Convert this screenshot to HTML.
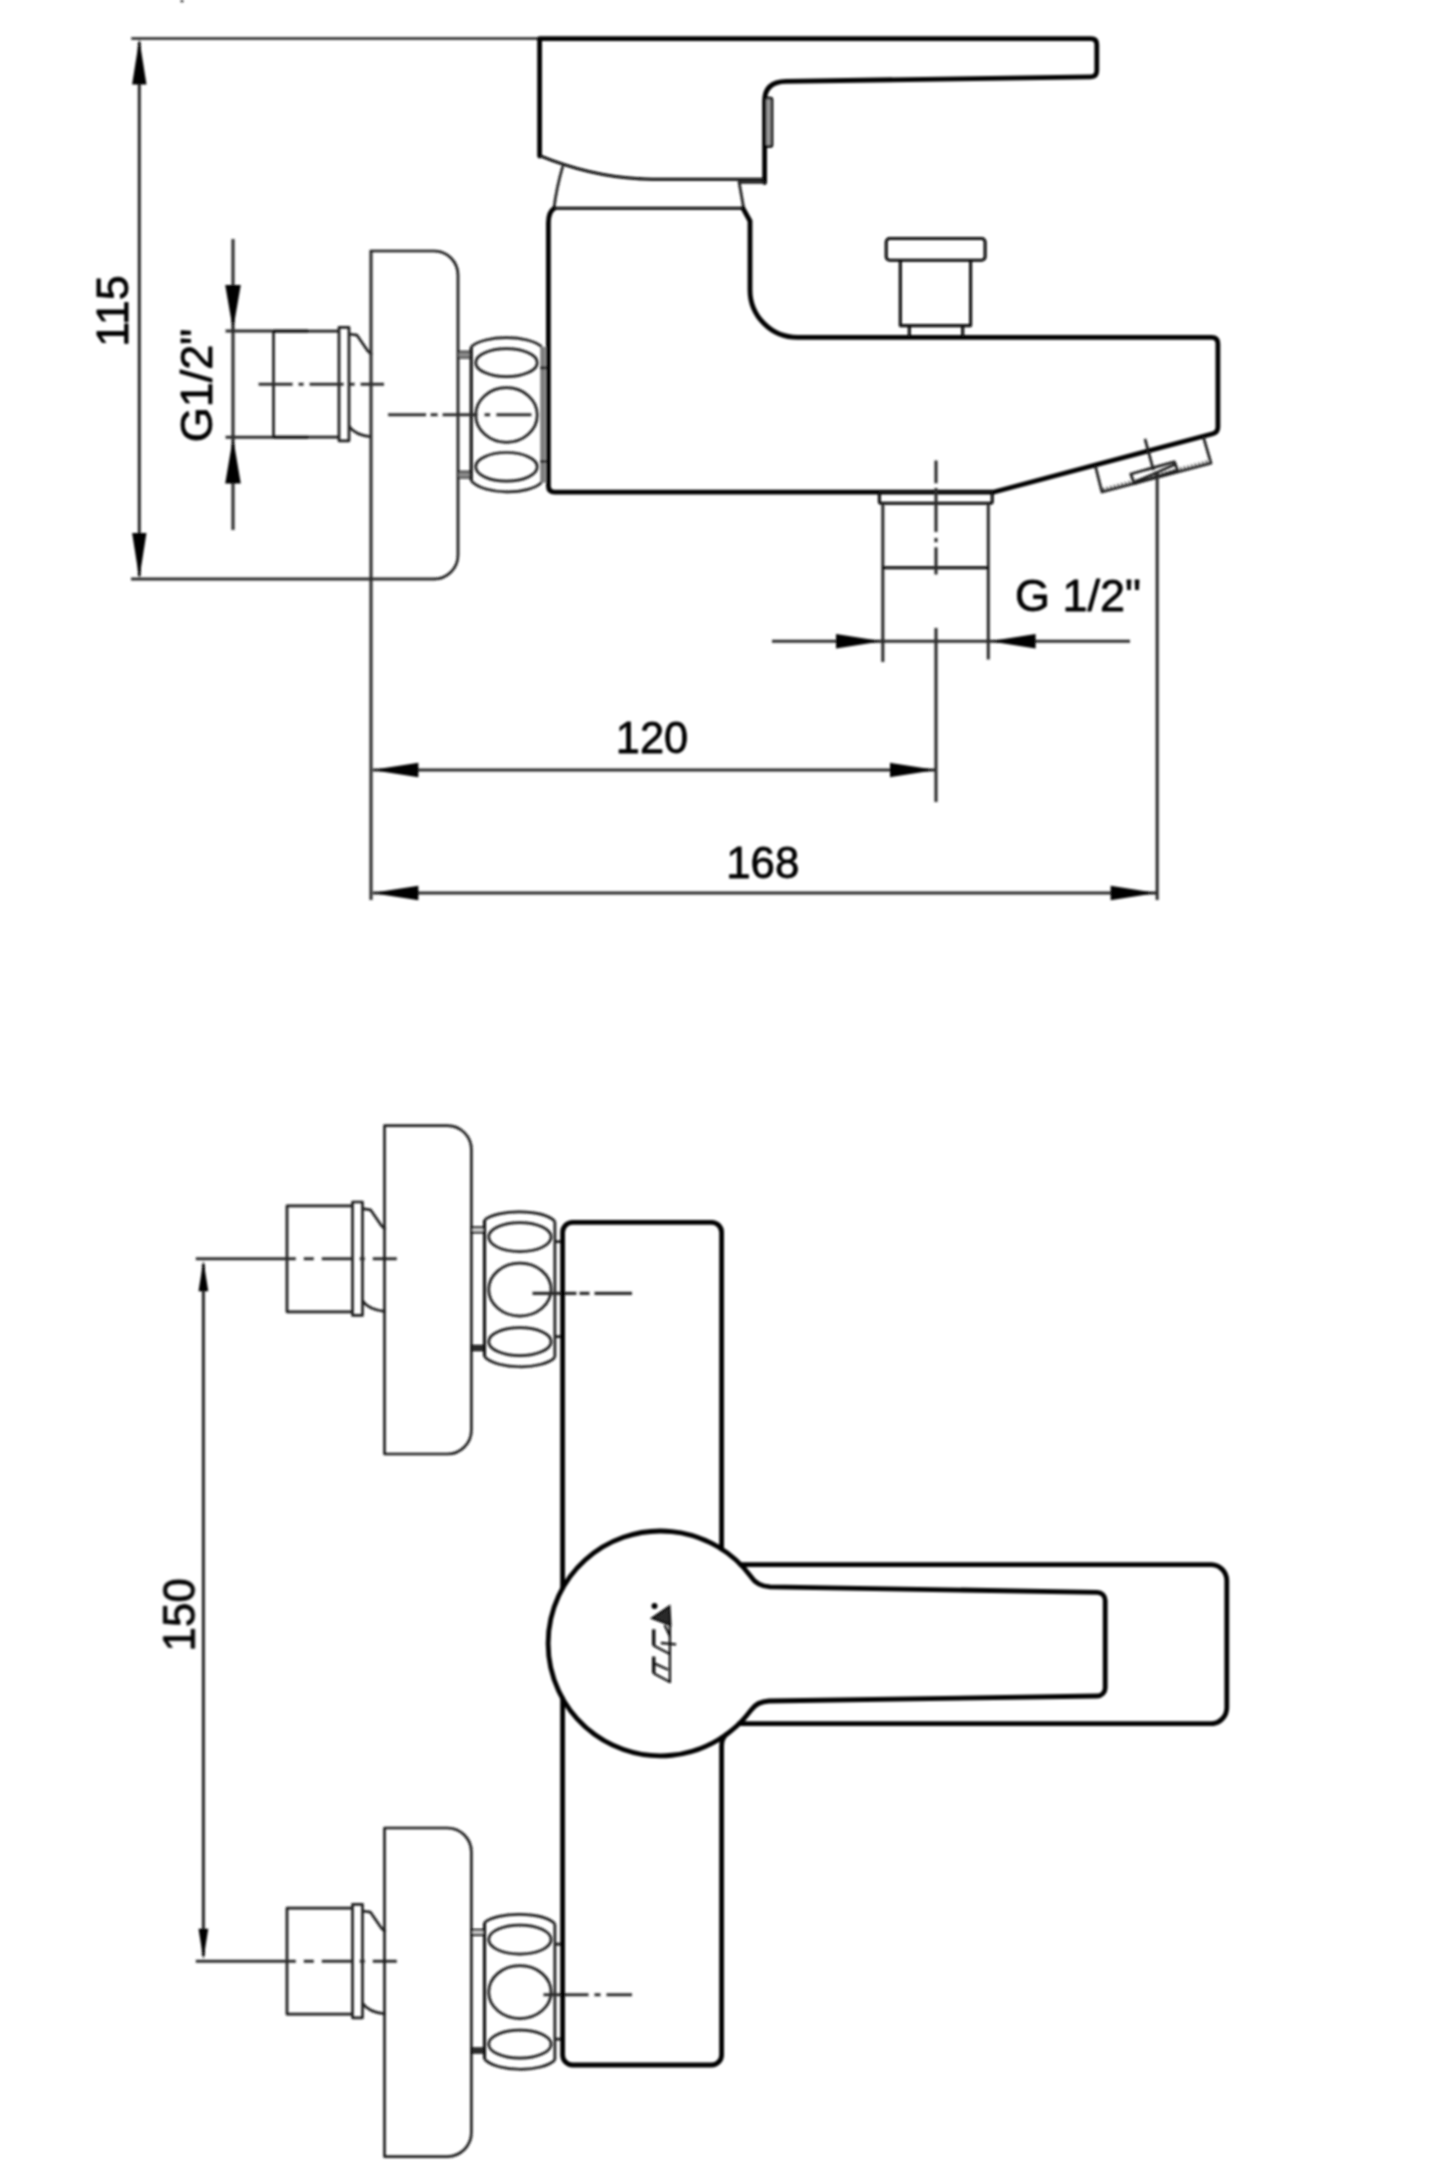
<!DOCTYPE html>
<html lang="en">
<head>
<meta charset="utf-8">
<title>Bath mixer technical drawing</title>
<style>
  html, body { margin: 0; padding: 0; background: #ffffff; }
  body { width: 1440px; height: 2160px; overflow: hidden; font-family: "Liberation Sans", sans-serif; }
  svg { display: block; }
  .k { fill: none; stroke: #000; stroke-width: 4.8; stroke-linejoin: round; stroke-linecap: round; }
  .n { fill: none; stroke: #1c1c1c; stroke-width: 2.7; stroke-linejoin: round; stroke-linecap: butt; }
  .d { fill: none; stroke: #2c2c2c; stroke-width: 3.1; stroke-linecap: butt; }
  .m { fill: none; stroke: #080808; stroke-width: 3.1; stroke-linejoin: round; }
  .a { fill: #000; stroke: none; }
  .t { font-family: "Liberation Sans", sans-serif; font-size: 45px; fill: #000; stroke: #000; stroke-width: 0.8; stroke-linejoin: round; }
</style>
</head>
<body>
<svg width="1440" height="2160" viewBox="0 0 1440 2160">
<defs>
  <filter id="soft" x="0" y="0" width="1440" height="2160" filterUnits="userSpaceOnUse"><feGaussianBlur stdDeviation="1"/></filter>
  <!-- union nut: origin = (wall plate right edge, nut centre) -->
  <g id="nut">
    <rect x="0" y="-63.3" width="12.6" height="6.3" fill="#8a8a8a" stroke="#111" stroke-width="1.6"/>
    <rect x="0" y="56.7" width="12.6" height="6.3" fill="#8a8a8a" stroke="#111" stroke-width="1.6"/>
    <line x1="84.9" y1="-68" x2="84.9" y2="68" stroke="#7d7d7d" stroke-width="5.4"/>
    <path class="n" d="M82.2,-47 h5.4 M82.2,46.7 h5.4"/>
    <path class="m" d="M13.2,-68 V66"/>
    <path class="n" d="M13.2,-68 C26,-80.2 71,-80.2 83.6,-68"/>
    <path class="n" d="M13.2,66 C26,80.4 71,80.4 83.6,67.6"/>
    <ellipse class="n" cx="48.5" cy="-52.1" rx="30.8" ry="14"/>
    <ellipse class="n" cx="48.5" cy="0.2" rx="30.8" ry="27.3"/>
    <ellipse class="n" cx="48.5" cy="52" rx="30.8" ry="14.3"/>
  </g>
  <!-- union nut as seen from above -->
  <g id="nut2">
    <rect x="0" y="-62" width="13" height="4.8" fill="#e8e8e8" stroke="#111" stroke-width="2.3"/>
    <rect x="0" y="56.2" width="13" height="4.6" fill="#333" stroke="#111" stroke-width="1.8"/>
    <path class="m" d="M13.1,-69.5 V67.2"/>
    <path class="n" d="M83.5,-68.2 V68 M83.5,-47.8 h6 M83.5,47.2 h6"/>
    <path class="n" d="M13.1,-69.5 C26,-80.5 71,-80.5 83.5,-68.2"/>
    <path class="n" d="M13.1,67.2 C26,80.5 71,80.5 83.5,68"/>
    <ellipse class="n" cx="48.5" cy="-52.4" rx="31.2" ry="14.5"/>
    <ellipse class="n" cx="48.5" cy="0.1" rx="31.2" ry="26.5"/>
    <ellipse class="n" cx="48.5" cy="52.2" rx="31.2" ry="14"/>
  </g>
  <!-- wall connection stub: origin = (wall plate left edge, stub centre) -->
  <g id="stub">
    <path class="n" d="M-31.5,-53 H-97.5 V53 H-31.5"/>
    <rect class="n" x="-32" y="-56.8" width="10" height="113.4"/>
    <path class="n" d="M-22,-50.2 L-14,-49 L-3,-33 L1,-29.5"/>
    <path class="n" d="M-22,42 Q-16,51 1,52.8"/>
  </g>
</defs>

<!-- ================= SIDE VIEW ================= -->
<g id="side-view" filter="url(#soft)">
  <!-- dimension 115 -->
  <path class="n" d="M131.3,38.5 H541" stroke-width="3.3"/>
  <path class="d" d="M131,579 H435"/>
  <path class="d" d="M139.3,42 V576"/>
  <path class="a" d="M139.3,39 l-7.2,45.5 h14.4 z"/>
  <path class="a" d="M139.3,578.6 l-7.2,-45.5 h14.4 z"/>
  <path class="n" d="M182,0 V2.2" stroke-width="3"/>
  <text class="t" text-anchor="middle" transform="translate(128,311) rotate(-90)">115</text>

  <!-- dimension G1/2" vertical -->
  <path class="d" d="M233,239 V530"/>
  <path class="a" d="M233,330 l-7.8,-45 h15.6 z"/>
  <path class="a" d="M233,437.6 l-7.8,46 h15.6 z"/>
  <path class="d" d="M225.6,331 H273 M225.6,437.2 H273"/>
  <text class="t" text-anchor="middle" transform="translate(212,385.5) rotate(-90)">G1/2"</text>

  <!-- wall stub -->
  <use href="#stub" x="371" y="384.2"/>
  <path class="m" d="M273.5,331 H308 M273.5,437.2 H308"/>
  <path class="d" d="M258.6,384.2 H384" stroke-dasharray="34 6 5 6"/>

  <!-- wall plate -->
  <path class="d" d="M371,900 V250" stroke="#4c4c4c" stroke-width="4"/>
  <path class="n" d="M370,251 H434 A24,24 0 0 1 458,275 V555 A24,24 0 0 1 434,579"/>

  <!-- nut -->
  <use href="#nut" x="458" y="414.8"/>
  <path class="d" d="M388.1,414.8 H531.5" stroke-dasharray="38 4.5 7 5 35 7 5.5 6.3 35"/>

  <!-- lever handle -->
  <path class="k" d="M539.6,156 V38.6 H1090.8 Q1096.8,38.6 1096.8,44.6 V70.8 Q1096.8,76.7 1090.8,76.9 L786,81.3 Q764.6,81.7 764.6,101 V182.6"/>
  <path class="m" d="M539.6,155.6 C576,170.5 612,178.8 652,179.2 H764.6"/>
  <rect x="765" y="98" width="7" height="48.4" rx="1.5" fill="#9a9a9a" stroke="#000" stroke-width="2.6"/>
  <path class="n" d="M765,182.4 H739"/>
  <path class="n" d="M562.8,166 Q556.5,188 554,207.8 M738.9,181 L743.6,207.8"/>

  <!-- body -->
  <path class="k" d="M743,208.4 L750,221 V290 A47.5,47.5 0 0 0 797.5,337.4 H1211.5 Q1217.9,337.4 1217.9,343.8 V427 Q1217.9,432.4 1212.8,433.8 L993,492.2 H554.8 Q548.4,492.2 548.4,485.7 V223 Q548.4,212 554,208.4"/>
  <path class="m" d="M554,208.3 H743"/>

  <!-- diverter knob -->
  <rect class="m" x="886.2" y="238.5" width="98.9" height="21.7" rx="3.5"/>
  <path class="m" d="M900.3,260.2 V325.6 H970.6 V260.2"/>
  <path class="m" d="M909.3,325.6 V337 M962.7,325.6 V337"/>

  <!-- bottom outlet -->
  <rect class="m" x="879.4" y="492" width="112.8" height="11.3" rx="1.5"/>
  <path class="d" d="M882.8,503.4 V662 M988.3,503.4 V659.6"/>
  <path class="m" d="M882.8,567.8 H988.3"/>
  <path class="d" d="M936,460.6 V574.5" stroke-dasharray="22.7 4.7 44 6 4.2 5 28"/>
  <path class="d" d="M936,628 V802"/>

  <!-- aerator -->
  <path class="n" d="M1095.4,466 L1101.9,492 L1211,463.2 L1203.3,436.7"/>
  <path d="M1103,489.6 L1210.4,461.2" stroke="#3a3a3a" stroke-width="3.6" stroke-dasharray="1.5 2.3" fill="none"/>
  <path class="n" d="M1130.8,474 L1174.4,461.8 L1177.6,470.4 L1134.2,483.6 Z"/>
  <path class="n" d="M1134.2,482.4 L1176,464"/>
  <path class="n" d="M1145,438.8 L1153.4,470"/>
  <path class="d" d="M1157.2,471 V900"/>

  <!-- G 1/2" horizontal -->
  <path class="d" d="M772,641.2 H1130"/>
  <path class="a" d="M882,641.2 l-46,-7.2 v14.4 z"/>
  <path class="a" d="M989.6,641.2 l46,-7.2 v14.4 z"/>
  <text class="t" x="1015" y="611">G 1/2"</text>

  <!-- 120 -->
  <path class="d" d="M373,770 H935"/>
  <path class="a" d="M372.4,770 l46,-7.2 v14.4 z"/>
  <path class="a" d="M936,770 l-46,-7.2 v14.4 z"/>
  <text class="t" x="652" y="753.2" text-anchor="middle" textLength="72.4" lengthAdjust="spacingAndGlyphs">120</text>

  <!-- 168 -->
  <path class="d" d="M373,893 H1156"/>
  <path class="a" d="M372.4,893 l46,-7.2 v14.4 z"/>
  <path class="a" d="M1156.6,893 l-46,-7.2 v14.4 z"/>
  <text class="t" x="762.8" y="877.5" text-anchor="middle" textLength="73.2" lengthAdjust="spacingAndGlyphs">168</text>
</g>

<!-- ================= TOP VIEW ================= -->
<g id="top-view" filter="url(#soft)">
  <!-- upper connection -->
  <use href="#stub" x="384.5" y="1258.8"/>
  <path class="d" d="M195.8,1258.8 H397" stroke="#181818" stroke-width="2.8" stroke-dasharray="100 8 10 8 30 8 5 8 24"/>
  <path class="n" d="M384.5,1125.6 H447.4 A24,24 0 0 1 471.4,1149.6 V1430 A24,24 0 0 1 447.4,1454 H384.5 Z"/>
  <use href="#nut2" x="471.4" y="1289.5"/>
  <path class="d" d="M532.5,1293.4 H632" stroke="#181818" stroke-width="2.8" stroke-dasharray="44 3 10 5 38"/>

  <!-- lower connection -->
  <use href="#stub" x="384.5" y="1961.2"/>
  <path class="d" d="M195.8,1961.2 H397" stroke="#181818" stroke-width="2.8" stroke-dasharray="100 8 10 8 30 8 5 8 24"/>
  <path class="n" d="M384.5,1828 H447.4 A24,24 0 0 1 471.4,1852 V2132.6 A24,24 0 0 1 447.4,2156.6 H384.5 Z"/>
  <use href="#nut2" x="471.4" y="1992"/>
  <path class="d" d="M543.5,1994.8 H632" stroke="#181818" stroke-width="2.8" stroke-dasharray="45 6 6 6 40"/>

  <!-- dimension 150 -->
  <path class="d" d="M203.4,1264 V1956"/>
  <path class="a" d="M203.4,1260.6 l-4.9,30.6 h9.8 z"/>
  <path class="a" d="M203.4,1959.4 l-4.9,-30.6 h9.8 z"/>
  <text class="t" text-anchor="middle" transform="translate(194.5,1614.8) rotate(-90)" textLength="73.3" lengthAdjust="spacingAndGlyphs">150</text>

  <!-- body -->
  <path class="k" d="M721.6,1549 V1232.3 A10,10 0 0 0 711.6,1222.3 H572.6 A10,10 0 0 0 562.6,1232.3 V1588"/>
  <path class="k" d="M562.6,1698.6 V2055 A10,10 0 0 0 572.6,2065 H711.6 A10,10 0 0 0 721.6,2055 V1746 Q721.6,1739 726,1734.6"/>

  <!-- spout -->
  <path class="k" d="M740.6,1564.6 H1210.8 A16,16 0 0 1 1226.8,1580.6 V1707.7 A16,16 0 0 1 1210.8,1723.7 H739.2"/>

  <!-- lever -->
  <path class="k" d="M770,1586.8 L1097.2,1592.3 A8,8 0 0 1 1105.2,1600.3 V1688 A8,8 0 0 1 1097.2,1696 L769,1701 Q757,1701.6 751,1710.1 A112.4,112.4 0 1 1 751,1576.7 Q757,1586 770,1586.8 Z"/>

  <!-- brand mark on lever (graphic) -->
  <g transform="translate(669.9,1683) rotate(-90)" fill="none" stroke="#111" stroke-width="2.3" stroke-linejoin="miter">
    <path d="M0,0 H59"/>
    <path d="M26.4,-16.2 H9.7" stroke-width="3.4"/>
    <path d="M9.7,-16.4 L1,0 M19.4,-15 L13.2,-1.7"/>
    <path d="M53.7,-16.2 H37.4" stroke-width="3.4"/>
    <path d="M37.4,-16.4 L29,0 M40,-9 L38.7,6.2 M58,-5.3 L46,0.4"/>
    <path d="M76.5,-0.5 L64.7,-17.6 L58.1,0.4 Z" fill="#2a2a2a"/>
    <circle cx="77" cy="-15.4" r="3" fill="#000" stroke="none"/>
  </g>
</g>
</svg>
</body>
</html>
